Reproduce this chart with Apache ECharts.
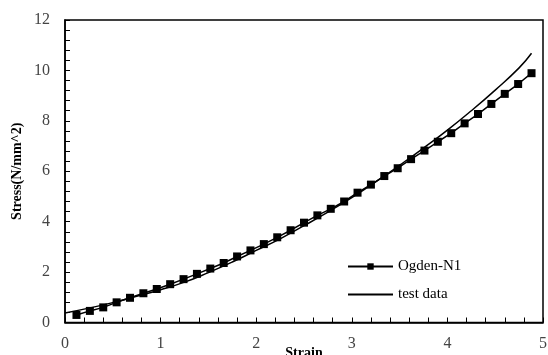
<!DOCTYPE html>
<html><head><meta charset="utf-8">
<script src="https://cdn.jsdelivr.net/npm/echarts@6/dist/echarts.min.js"></script>
<style>html,body{margin:0;padding:0;background:#fff}#c{width:548px;height:355px}</style>
</head><body><div id="c"></div>
<script>
const ogdenStrain = [0.12,0.26,0.40,0.54,0.68,0.82,0.96,1.10,1.24,1.38,1.52,1.66,1.80,1.94,2.08,2.22,2.36,2.50,2.64,2.78,2.92,3.06,3.20,3.34,3.48,3.62,3.76,3.90,4.04,4.18,4.32,4.46,4.60,4.74,4.88];
const ogdenStress = [0.30,0.46,0.60,0.80,0.98,1.16,1.33,1.52,1.72,1.93,2.14,2.36,2.62,2.86,3.11,3.38,3.66,3.96,4.25,4.51,4.80,5.15,5.47,5.81,6.12,6.48,6.82,7.17,7.51,7.90,8.27,8.67,9.07,9.46,9.89];
const testStrain = [0,0.25,0.5,0.75,1.0,1.25,1.5,1.75,2.0,2.25,2.5,2.75,3.0,3.25,3.5,3.75,4.0,4.25,4.5,4.75,4.88];
const testStress = [0.38,0.57,0.79,1.04,1.30,1.60,1.98,2.40,2.86,3.32,3.84,4.38,4.95,5.58,6.24,6.92,7.63,8.40,9.22,10.10,10.68];
const xTicks = [0,1,2,3,4,5];
const yTicks = [0,2,4,6,8,10,12];

const font = 'Liberation Serif';
const chart = echarts.init(document.getElementById('c'), null, {renderer:'canvas'});
chart.setOption({
  animation:false,
  backgroundColor:'#fff',
  grid:{left:65,right:5,top:20,bottom:32.5,show:true,borderColor:'#000',borderWidth:1.5,outerBoundsMode:'none',containLabel:false},
  legend:{
    left:342, top:254, orient:'vertical', itemWidth:45, itemHeight:8, itemGap:13,
    textStyle:{fontFamily:font,fontSize:15,color:'#000'},
    data:['Ogden-N1',{name:'test data',itemStyle:{opacity:0}}]
  },
  xAxis:{
    type:'value', min:xTicks[0], max:xTicks[xTicks.length-1], interval:1,
    name:'Strain', nameLocation:'middle', nameGap:24, nameMoveOverlap:false,
    nameTextStyle:{fontFamily:font,fontSize:14,fontWeight:'bold',color:'#000',verticalAlign:'top'},
    axisLine:{lineStyle:{color:'#000',width:1.5}},
    axisTick:{inside:true,length:5,lineStyle:{color:'#000',width:1}},
    minorTick:{show:true,splitNumber:5,length:5,lineStyle:{color:'#000',width:1}},
    splitLine:{show:false},
    axisLabel:{fontFamily:font,fontSize:16,color:'#444',margin:13,hideOverlap:false}
  },
  yAxis:{
    type:'value', min:yTicks[0], max:yTicks[yTicks.length-1], interval:2,
    name:'Stress(N/mm^2)', nameLocation:'middle', nameGap:41, nameMoveOverlap:false,
    nameTextStyle:{fontFamily:font,fontSize:14,fontWeight:'bold',color:'#000'},
    axisLine:{lineStyle:{color:'#000',width:1.5}},
    axisTick:{inside:true,length:5,lineStyle:{color:'#000',width:1}},
    minorTick:{show:true,splitNumber:5,length:5,lineStyle:{color:'#000',width:1}},
    splitLine:{show:false},
    axisLabel:{fontFamily:font,fontSize:16,color:'#444',margin:15}
  },
  series:[
    {
      name:'Ogden-N1', type:'line', symbol:'rect', symbolSize:8,
      itemStyle:{color:'#000'}, lineStyle:{color:'#000',width:1.5},
      data:ogdenStrain.map((x,i)=>[x,ogdenStress[i]]), z:3
    },
    {
      name:'test data', type:'line', symbol:'none', smooth:true,
      lineStyle:{color:'#000',width:1.5}, itemStyle:{color:'#000'},
      data:testStrain.map((x,i)=>[x,testStress[i]]), z:2
    }
  ]
});
</script></body></html>
